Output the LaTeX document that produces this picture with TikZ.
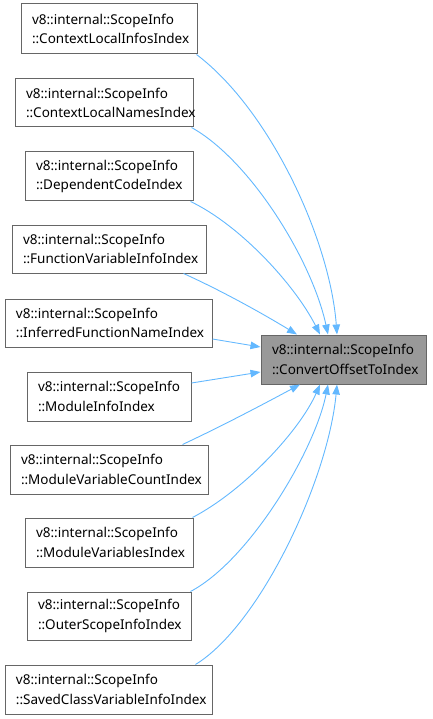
\documentclass[tikz,border=0pt]{standalone}
\usepackage{fontspec}
\setmainfont{Noto Sans}
\usetikzlibrary{arrows.meta}
\definecolor{edgeblue}{HTML}{63B8FF}
\definecolor{boxgrey}{HTML}{666666}
\definecolor{fillgrey}{HTML}{999999}
\begin{document}
\begin{tikzpicture}[x=1pt,y=-1pt,
  box/.style={draw=boxgrey, fill=white, line width=1pt, rectangle, inner xsep=0pt, inner ysep=0pt,
     align=left, font=\fontsize{13.5}{19.5}\selectfont, text=black},
  edge/.style={draw=edgeblue, line width=0.9pt, -{Triangle[length=10pt,width=7.5pt]}, fill=none}]
\useasboundingbox (0,0) rectangle (432,719);
\newcommand{\bx}[5]{\node[box, minimum width=#3pt, minimum height=#4pt, text width=#3pt-22pt] (#1) at (#2) {#5};}
\bx{b1}{109,29}{176}{50}{v8::internal::ScopeInfo\\::ContextLocalInfosIndex}
\bx{b2}{104,103}{178}{48}{v8::internal::ScopeInfo\\::ContextLocalNamesIndex}
\bx{b3}{109,176.5}{168}{49}{v8::internal::ScopeInfo\\::DependentCodeIndex}
\bx{b4}{109,249}{194}{48}{v8::internal::ScopeInfo\\::FunctionVariableInfoIndex}
\bx{b5}{108.5,323}{207}{48}{v8::internal::ScopeInfo\\::InferredFunctionNameIndex}
\bx{b6}{109,396.5}{164}{49}{v8::internal::ScopeInfo\\::ModuleInfoIndex}
\bx{b7}{109,469.5}{198}{49}{v8::internal::ScopeInfo\\::ModuleVariableCountIndex}
\bx{b8}{109,542.5}{168}{49}{v8::internal::ScopeInfo\\::ModuleVariablesIndex}
\bx{b9}{109,616}{164}{48}{v8::internal::ScopeInfo\\::OuterScopeInfoIndex}
\bx{b10}{108.5,689.5}{207}{49}{v8::internal::ScopeInfo\\::SavedClassVariableInfoIndex}
\node[box, fill=fillgrey, minimum width=165pt, minimum height=49pt, text width=143pt] (t) at (343.5,359.5)
  {v8::internal::ScopeInfo\\::ConvertOffsetToIndex};
% top arrows
\draw[edge] ([xshift=-1pt]b1.south east) .. controls (270,110) and (330,240) .. ([xshift=-6.5pt]t.north);
\draw[edge] ([xshift=-2pt]b2.south east) .. controls (250,160) and (312,260) .. ([xshift=-15.5pt]t.north);
\draw[edge] ([xshift=-3pt]b3.south east) .. controls (240,225) and (295,285) .. ([xshift=-23.5pt]t.north);
\draw[edge] ([xshift=-23pt]b4.south east) .. controls (220,290) and (260,312) .. ([xshift=-46.5pt]t.north);
% side arrows
\draw[edge] ([yshift=-16pt]b5.east) -- ([yshift=12.5pt]t.west);
\draw[edge] ([yshift=13.5pt]b6.east) -- ([yshift=-12.5pt]t.west);
% bottom arrows
\draw[edge] ([xshift=-26pt]b7.north east) .. controls (220,427) and (260,406) .. ([xshift=-43.5pt]t.south);
\draw[edge] ([xshift=-1pt]b8.north east) .. controls (245,490) and (300,430) .. ([xshift=-23.5pt]t.south);
\draw[edge] ([xshift=-1pt]b9.north east) .. controls (250,560) and (315,450) .. ([xshift=-15.5pt]t.south);
\draw[edge] ([xshift=-17pt]b10.north east) .. controls (260,625) and (328,480) .. ([xshift=-6.5pt]t.south);
\end{tikzpicture}
\end{document}
